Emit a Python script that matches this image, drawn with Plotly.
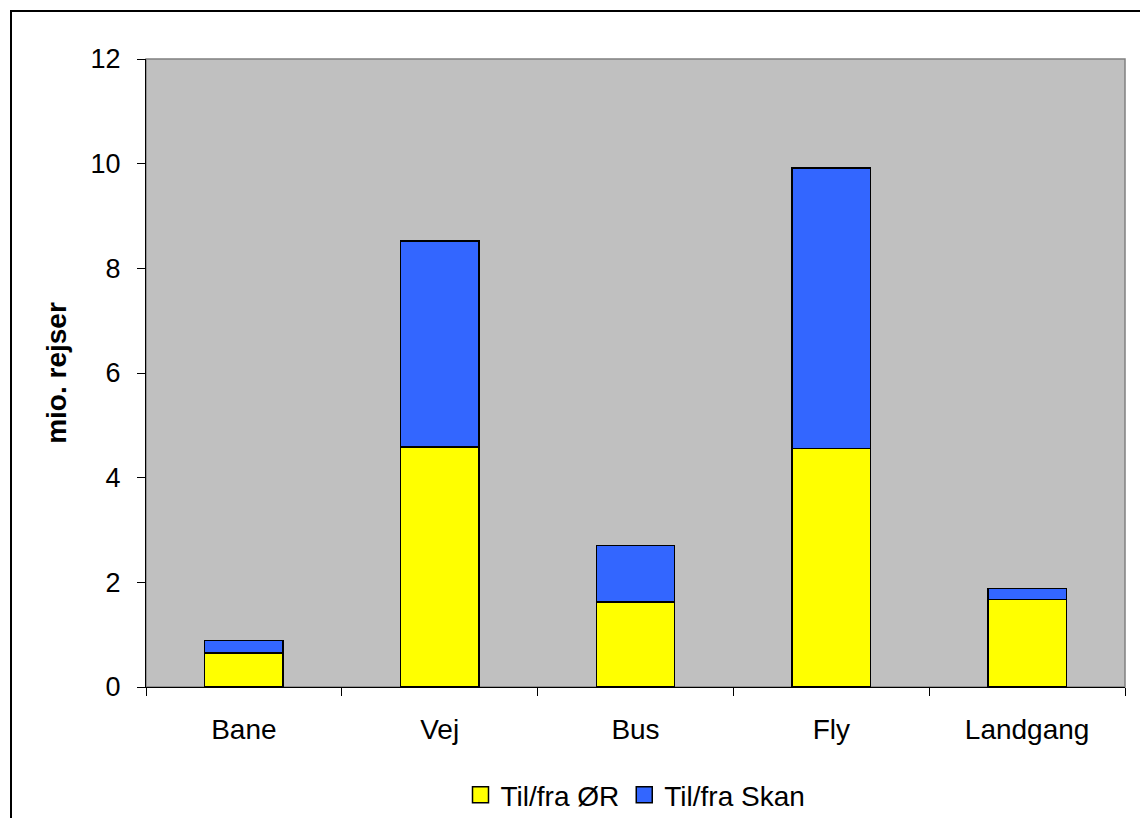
import plotly.graph_objects as go

# Trips by mode of transport (million trips)
categories = ["Bane", "Vej", "Bus", "Fly", "Landgang"]
til_fra_oer = [0.65, 4.59, 1.62, 4.56, 1.67]
til_fra_skan = [0.24, 3.93, 1.08, 5.36, 0.21]
series_names = ["Til/fra ØR", "Til/fra Skan"]
series_colors = ["#FFFF00", "#3366FF"]
y_ticks = [0, 2, 4, 6, 8, 10, 12]

FONT = "Liberation Sans, Arial, sans-serif"

fig = go.Figure()
for name, vals, color in zip(series_names, [til_fra_oer, til_fra_skan], series_colors):
    fig.add_trace(go.Bar(
        x=categories, y=vals, name=name, legendgroup=name, showlegend=False,
        marker=dict(color=color, line=dict(color="#000000", width=1.5)),
    ))
    # legend key: a larger square swatch than the default bar key
    fig.add_trace(go.Scatter(
        x=[None], y=[None], mode="markers", name=name, legendgroup=name,
        marker=dict(symbol="square", size=16, color=color,
                    line=dict(color="#000000", width=1.5)),
        hoverinfo="skip",
    ))

W, H = 1140, 818
L, R, T, B = 146, 15, 59, 131
pw, ph = W - L - R, H - T - B

fig.update_layout(
    width=W, height=H,
    barmode="stack", bargap=0.6,
    paper_bgcolor="white", plot_bgcolor="#C0C0C0",
    margin=dict(l=L, r=R, t=T, b=B, autoexpand=False),
    font=dict(family=FONT, size=28, color="black"),
    showlegend=True,
    legend=dict(
        orientation="h", x=0.5, xanchor="center",
        y=-(795 - (H - B)) / ph, yanchor="middle",
        font=dict(family=FONT, size=28, color="black"),
        itemwidth=30, traceorder="normal", bgcolor="rgba(0,0,0,0)",
    ),
    xaxis=dict(
        type="category", showgrid=False, showline=True, linecolor="black", linewidth=1,
        ticks="outside", tickson="boundaries", ticklen=8, tickcolor="black", tickwidth=1,
        tickfont=dict(family=FONT, size=28, color="black"),
        ticklabelstandoff=17,
    ),
    yaxis=dict(
        range=[0, 12], tickvals=y_ticks, showgrid=False, zeroline=False,
        showline=True, linecolor="black", linewidth=1,
        ticks="outside", ticklen=8, tickcolor="black", tickwidth=1,
        tickfont=dict(family=FONT, size=27, color="black"),
        ticklabelstandoff=11,
        title=dict(text="<b>mio. rejser</b>", font=dict(family=FONT, size=28, color="black"),
                   standoff=15),
        automargin=False,
    ),
    shapes=[
        # grey frame around the plot area
        dict(type="rect", xref="paper", yref="paper", x0=0, x1=1, y0=0, y1=1,
             line=dict(color="#808080", width=1.5), layer="below"),
        # outer chart border
        dict(type="rect", xref="paper", yref="paper",
             x0=(11 - L) / pw, x1=(W + 20 - L) / pw,
             y0=-(H + 20 - (H - B)) / ph, y1=1 + (T - 11) / ph,
             line=dict(color="black", width=2)),
    ],
)
fig.update_xaxes(automargin=False)

fig.write_html("out.html")
